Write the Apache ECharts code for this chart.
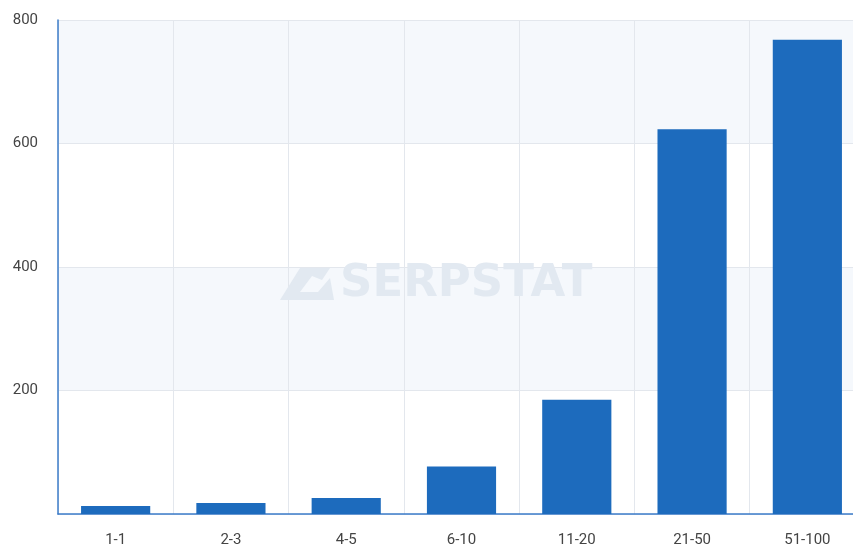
<!DOCTYPE html>
<html>
<head>
<meta charset="utf-8">
<script src="https://cdn.jsdelivr.net/npm/echarts@6/dist/echarts.min.js"></script>
<style>
	html, body { margin: 0; padding: 0; background: #fff; }
	#MyChart { width: 853px; height: 550px; }
</style>
</head>
<body>
<div id="MyChart"></div>
<script>
var categories = ['1-1', '2-3', '4-5', '6-10', '11-20', '21-50', '51-100'];
var values = [13, 18, 26, 77, 185, 623, 768];
var yTicks = [0, 200, 400, 600, 800];

var myChart1 = echarts.init(document.getElementById('MyChart'));
myChart1.setOption({
	animation: false,
	grid: {
		left: 58,
		width: 807,
		top: 20,
		height: 494,
		outerBoundsMode: 'none',
		containLabel: false
	},
	graphic: [{
		type: 'polygon',
		shape: {
			points: [[280, 300], [300, 268], [330, 268], [322, 280], [312, 276], [300, 292], [318, 292], [330, 278], [334, 300]]
		},
		style: { fill: '#e2e9f1' },
		z: 1
	}, {
		type: 'text',
		left: 340,
		top: 262,
		style: {
			text: 'SERPSTAT',
			fill: '#e2e9f1',
			font: 'bold 45px "DejaVu Sans"'
		},
		z: 1
	}],
	xAxis: {
		type: 'category',
		data: categories,
		axisLine: { lineStyle: { color: '#3d7cc9', width: 1.5 } },
		axisTick: { show: false },
		axisLabel: {
			margin: 19,
			color: '#444',
			fontSize: 15,
			fontFamily: 'Roboto'
		},
		splitLine: { show: true, lineStyle: { color: '#e3e7ed' } }
	},
	yAxis: {
		type: 'value',
		min: yTicks[0],
		max: yTicks[yTicks.length - 1],
		interval: 200,
		axisLine: { show: true, lineStyle: { color: '#3d7cc9', width: 1.5 } },
		axisTick: { show: false },
		axisLabel: {
			margin: 20,
			color: '#444',
			fontSize: 15,
			fontFamily: 'Roboto',
			formatter: function(v) { return v === 0 ? '' : v; }
		},
		splitLine: { lineStyle: { color: '#e3e7ed' } },
		splitArea: { show: true, areaStyle: { color: ['#ffffff', '#f5f8fc'] } }
	},
	series: [{
		type: 'bar',
		data: values,
		barWidth: '60%',
		itemStyle: { color: '#1d6bbd' }
	}]
});
</script>
</body>
</html>
